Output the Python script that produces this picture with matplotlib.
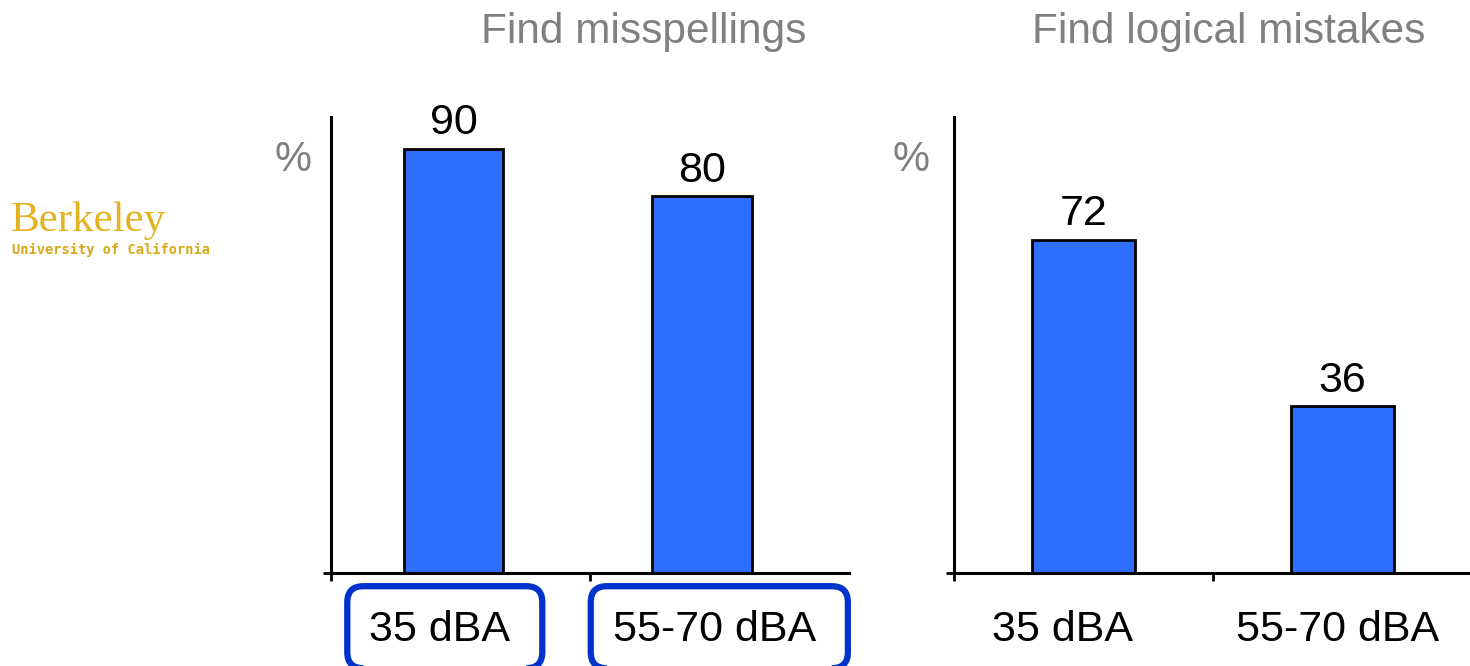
import numpy as np
import matplotlib
matplotlib.use("Agg")
import matplotlib.pyplot as plt
from matplotlib.patches import FancyBboxPatch
from matplotlib.transforms import IdentityTransform

plt.rcParams['font.family'] = ['Liberation Sans', 'DejaVu Sans']

# data
categories = ["35 dBA", "55-70 dBA"]
misspellings = [90, 80]
logical = [72, 36]
titles = ["Find misspellings", "Find logical mistakes"]

BAR_COLOR = '#2D6EFC'
GREY = '#808080'
BOX_COLOR = '#0033CC'
W, H = 1470, 666

fig = plt.figure(figsize=(W / 100, H / 100), dpi=100)


def px_axes(x0, x1, y_top, y_base):
    return fig.add_axes([x0 / W, (H - y_base) / H, (x1 - x0) / W, (y_base - y_top) / H])


def style_axes(ax, ymax):
    ax.set_xlim(0, 2)
    ax.set_ylim(0, ymax)
    for s in ['top', 'right']:
        ax.spines[s].set_visible(False)
    for s in ['left', 'bottom']:
        ax.spines[s].set_linewidth(2.2)
    ax.set_yticks([0])
    ax.set_yticklabels([])
    ax.tick_params(axis='y', length=6, width=2, direction='out')
    # category boundaries get tick marks, labels sit slightly left of centre
    ax.set_xticks([0, 1], minor=True)
    ax.set_xticks(np.arange(len(categories)) + 0.42 + np.array([0, 0.06]))
    ax.set_xticklabels(categories, fontsize=31)
    ax.tick_params(axis='x', which='major', length=0, pad=27)
    ax.tick_params(axis='x', which='minor', length=6, width=2, direction='out')


ax1 = px_axes(331, 849, 117, 572.7)
style_axes(ax1, 96.8)
b1 = ax1.bar(np.arange(len(categories)) + np.array([0.473, 0.434]), misspellings, width=0.386,
             color=BAR_COLOR, edgecolor='black', linewidth=2)
ax1.bar_label(b1, labels=[str(v) for v in misspellings], padding=4, fontsize=31)

ax2 = px_axes(954, 1472, 117, 572.7)
style_axes(ax2, 98.6)
b2 = ax2.bar(np.arange(len(categories)) + 0.5, logical, width=0.40,
             color=BAR_COLOR, edgecolor='black', linewidth=2)
ax2.bar_label(b2, labels=[str(v) for v in logical], padding=4, fontsize=31)

# titles and % labels
fig.text(644 / W, (H - 43) / H, titles[0], ha='center', va='baseline', fontsize=30.5, color=GREY)
fig.text(1229 / W, (H - 43) / H, titles[1], ha='center', va='baseline', fontsize=30.5, color=GREY)
fig.text(293 / W, (H - 160) / H, '%', ha='center', va='center', fontsize=30, color=GREY)
fig.text(911 / W, (H - 160) / H, '%', ha='center', va='center', fontsize=30, color=GREY)

# Berkeley logo as text
fig.text(11 / W, (H - 231) / H, 'Berkeley', ha='left', va='baseline', fontsize=31,
         color='#E3B21E', family='Liberation Serif')
fig.text(12 / W, (H - 254) / H, 'University of California', ha='left', va='baseline', fontsize=9.8,
         color='#D9A816', family='DejaVu Sans Mono', weight='bold')

# rounded boxes around the left chart's category labels
fig.canvas.draw()
renderer = fig.canvas.get_renderer()
for lbl in ax1.get_xticklabels():
    bb = lbl.get_window_extent(renderer)
    box = FancyBboxPatch((bb.x0 - 22, bb.y0 - 18), bb.width + 54, bb.height + 42,
                         boxstyle='round,pad=0,rounding_size=16',
                         facecolor='none', edgecolor=BOX_COLOR, linewidth=4.5,
                         transform=IdentityTransform())
    fig.add_artist(box)

fig.savefig('out.png', dpi=100)
